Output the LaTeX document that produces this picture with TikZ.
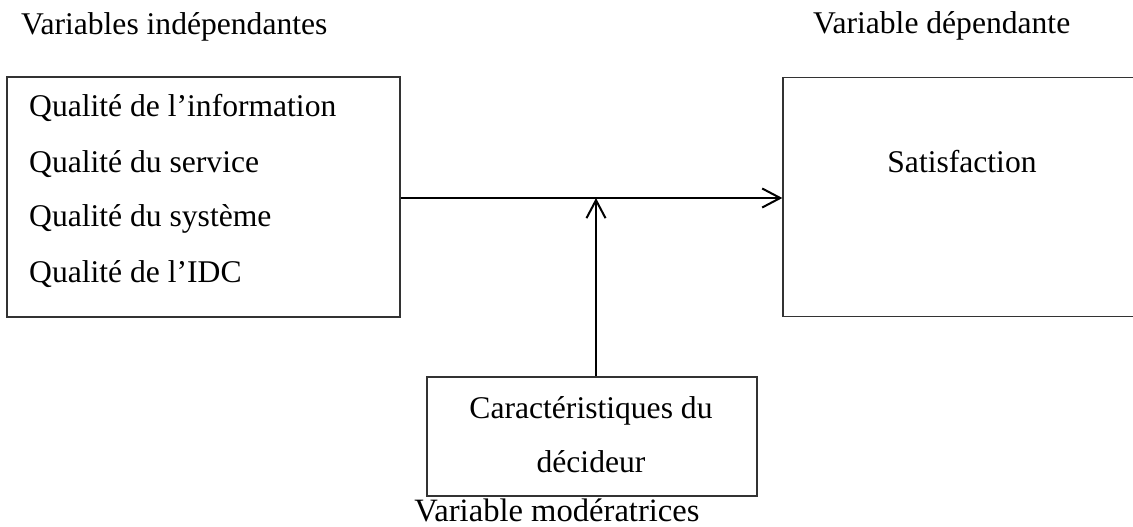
\documentclass[tikz,border=0pt]{standalone}
\usepackage{fontspec}
\setmainfont{Liberation Serif}
\usetikzlibrary{arrows.meta}
\begin{document}
\begin{tikzpicture}[x=1pt,y=-1pt,
  txt/.style={inner sep=0pt,font=\fontsize{31.6}{38}\selectfont},
  boxframe/.style={draw=black!80,line width=1.3pt,inner sep=0pt},
  arr/.style={line width=2pt,-{Straight Barb[length=18pt,width=19pt,line width=2pt]}}]
  \useasboundingbox (0,0) rectangle (1133,527);
  \clip (0,0) rectangle (1133,527);
  % headings
  \node[txt,anchor=base west] (hindep) at (21,35) {Variables indépendantes};
  \node[txt,anchor=base west] (hdep) at (813,34) {Variable dépendante};
  % independent variables box
  \node[boxframe,minimum width=393pt,minimum height=240pt] (indep) at (203.5,197) {};
  \node[txt,anchor=base west] (q1) at (29,117) {Qualité de l’information};
  \node[txt,anchor=base west] (q2) at (29,172) {Qualité du service};
  \node[txt,anchor=base west] (q3) at (29,226) {Qualité du système};
  \node[txt,anchor=base west] (q4) at (29,282) {Qualité de l’IDC};
  % dependent variable box
  \node[boxframe,minimum width=358pt,minimum height=239pt] (dep) at (962,197) {};
  \node[txt,anchor=base] (sat) at (962,172) {Satisfaction};
  % moderating variable box
  \node[boxframe,minimum width=330pt,minimum height=119pt] (mod) at (592,436.5) {};
  \node[txt,anchor=base] (c1) at (591,418) {Caractéristiques du};
  \node[txt,anchor=base] (c2) at (591,472) {décideur};
  \node[txt,anchor=base,font=\fontsize{32.6}{38}\selectfont] (hmod) at (557,521) {Variable modératrices};
  % connectors
  \coordinate (meet) at (596,198);
  \draw[arr] (indep.east |- meet) -- (dep.west |- meet);
  \draw[arr] (mod.north -| meet) -- (meet);
\end{tikzpicture}
\end{document}
